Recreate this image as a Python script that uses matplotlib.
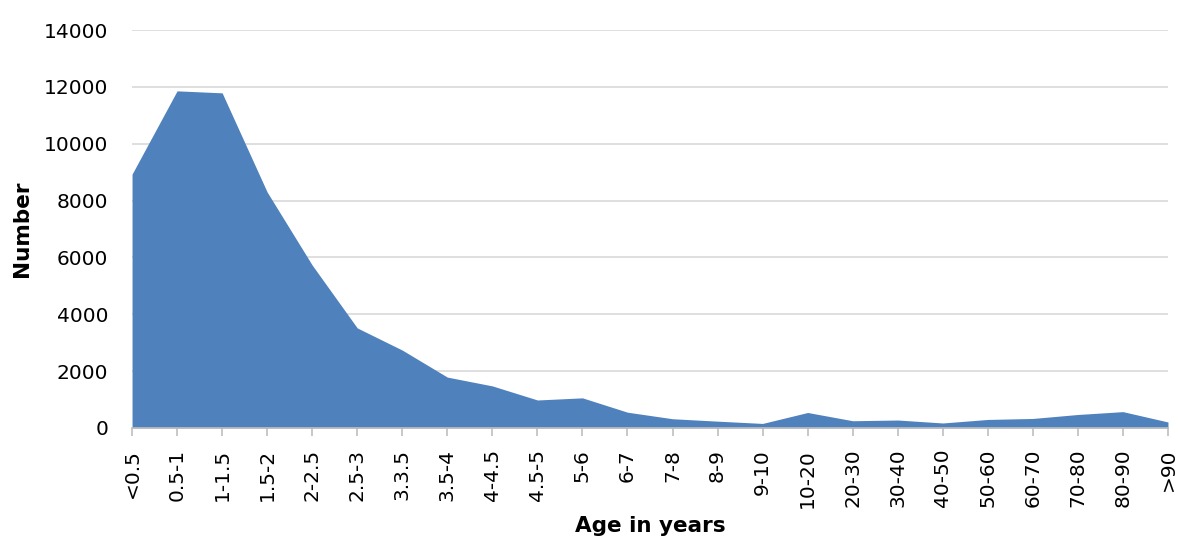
import numpy as np
import matplotlib.pyplot as plt

# age groups and counts
age_groups = ['<0.5', '0.5-1', '1-1.5', '1.5-2', '2-2.5', '2.5-3', '3.3.5', '3.5-4',
              '4-4.5', '4.5-5', '5-6', '6-7', '7-8', '8-9', '9-10', '10-20', '20-30',
              '30-40', '40-50', '50-60', '60-70', '70-80', '80-90', '>90']
counts = [8930, 11860, 11790, 8300, 5730, 3520, 2740, 1790,
          1480, 985, 1060, 555, 325, 240, 160, 545, 255,
          280, 176, 300, 335, 475, 575, 211]
y_ticks = [0, 2000, 4000, 6000, 8000, 10000, 12000, 14000]

fig = plt.figure(figsize=(11.8, 5.41), dpi=100)
ax = fig.add_axes([0.1119, 0.2089, 0.8779, 0.7356])

x = np.arange(len(age_groups))
ax.fill_between(x, counts, 0, color='#4F81BD', linewidth=0, zorder=2)

ax.set_xlim(0, len(age_groups) - 1)
ax.set_ylim(0, 14000)
ax.set_yticks(y_ticks)
ax.set_yticklabels([str(v) for v in y_ticks], fontsize=14.5)
ax.set_xticks(x)
ax.set_xticklabels(age_groups, rotation=90, fontsize=14.5, ha='center', va='top')

ax.yaxis.grid(True, color='#D9D9D9', linewidth=1.2, zorder=0)
ax.set_axisbelow(True)
for side in ['top', 'right', 'left']:
    ax.spines[side].set_visible(False)
ax.spines['bottom'].set_color('#BFBFBF')
ax.spines['bottom'].set_linewidth(1.2)
ax.spines['bottom'].set_zorder(3)
ax.tick_params(axis='y', length=0, pad=17)
ax.tick_params(axis='x', length=6, color='#BFBFBF', width=1.2, pad=9)

ax.set_ylabel('Number', fontsize=15.5, fontweight='bold')
ax.yaxis.set_label_coords(-0.0965, 0.5)
ax.set_xlabel('Age in years', fontsize=15.5, fontweight='bold')
ax.xaxis.set_label_coords(0.5, -0.222)

fig.savefig('out.png', dpi=100)
